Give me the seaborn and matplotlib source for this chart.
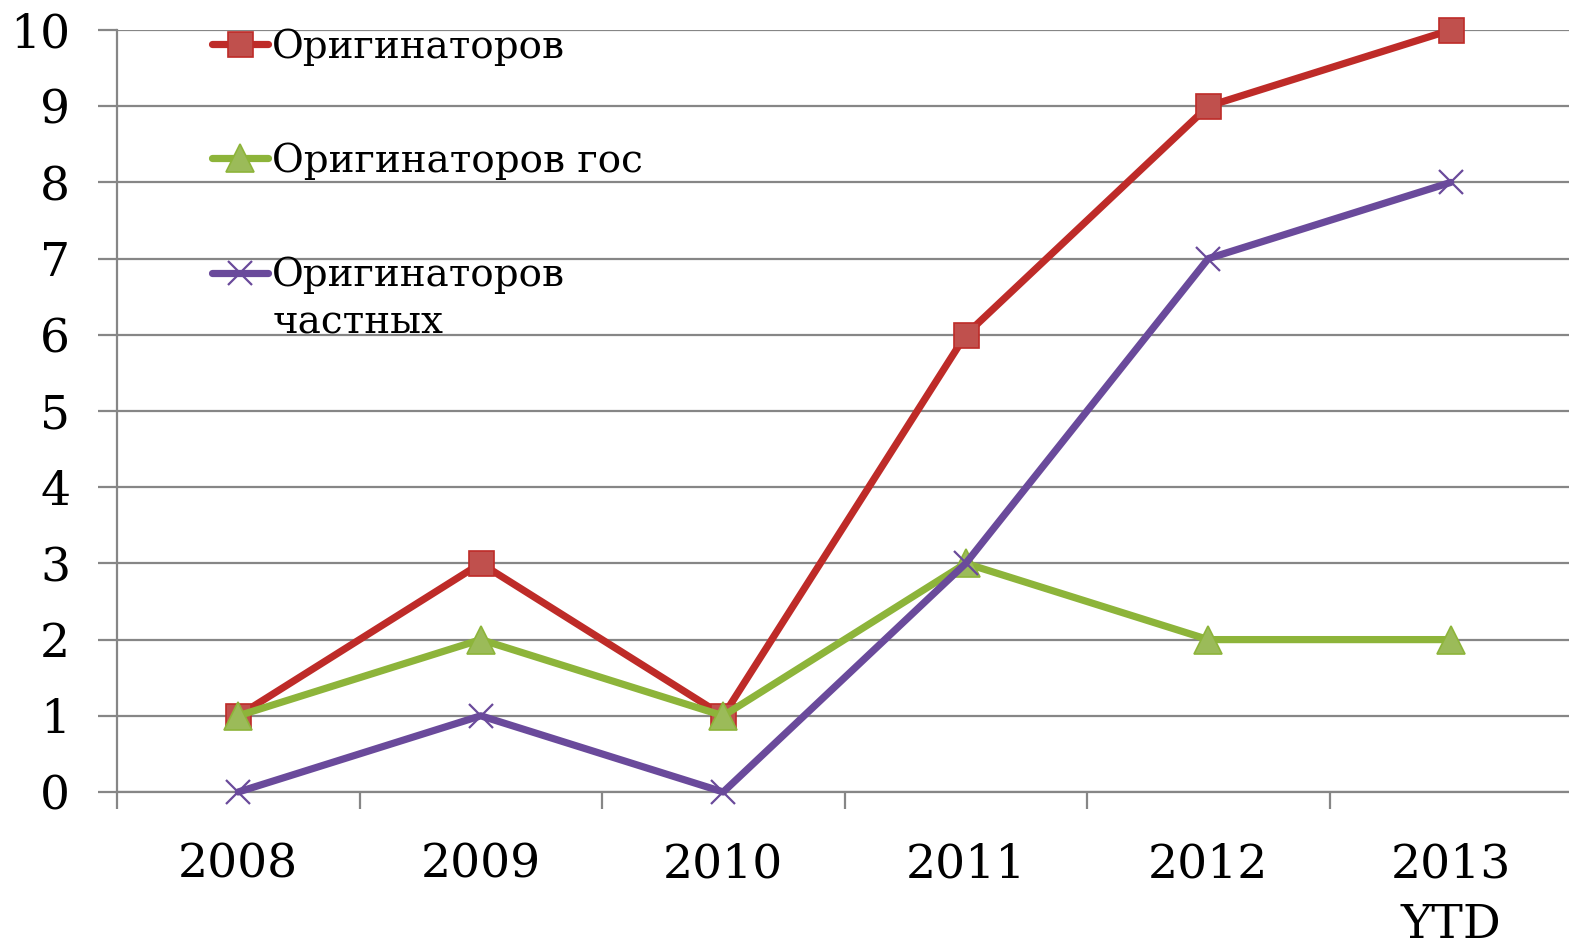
import pandas as pd
import matplotlib
matplotlib.use("Agg")
import matplotlib.pyplot as plt
from matplotlib.lines import Line2D
from matplotlib.ticker import FixedLocator
import seaborn as sns

# ── data ─────────────────────────────────────────────────────────────
years = ["2008", "2009", "2010", "2011", "2012", "2013\nYTD"]
orig_total = [1, 3, 1, 6, 9, 10]
orig_gov = [1, 2, 1, 3, 2, 2]
orig_private = [0, 1, 0, 3, 7, 8]

labels = ["Оригинаторов", "Оригинаторов гос", "Оригинаторов\nчастных"]

# ── style ────────────────────────────────────────────────────────────
GRID = "#868686"
RED_LINE, RED_FACE = "#BE2B28", "#C0504D"
GREEN_LINE, GREEN_FACE = "#8DB43A", "#9BBB59"
PURPLE = "#6A4A9B"
LW = 5.2

sns.set_style("white")
plt.rcParams["font.family"] = ["DejaVu Serif"]
plt.rcParams["text.color"] = "black"
plt.rcParams["xtick.labelcolor"] = "black"
plt.rcParams["ytick.labelcolor"] = "black"

fig = plt.figure(figsize=(15.69, 9.48), dpi=100)
ax = fig.add_axes([117 / 1569, 156 / 948, 1455 / 1569, 762 / 948])

pos = list(range(len(years)))
series = [
    (orig_total, dict(color=RED_LINE, marker="s", markersize=18,
                      markerfacecolor=RED_FACE, markeredgecolor=RED_LINE,
                      markeredgewidth=1.2)),
    (orig_gov, dict(color=GREEN_LINE, marker="^", markersize=20,
                    markerfacecolor=GREEN_FACE, markeredgecolor=GREEN_LINE,
                    markeredgewidth=1.2)),
    (orig_private, dict(color=PURPLE, marker="x", markersize=17,
                        markeredgecolor=PURPLE, markeredgewidth=1.6)),
]
for vals, kw in series:
    sns.lineplot(x=pos, y=vals, ax=ax, linewidth=LW, legend=False,
                 clip_on=False, zorder=3, **kw)

ax.set_xlim(-0.5, len(years) - 0.5)
ax.set_ylim(0, 10)
ax.set_yticks(range(0, 11))
ax.set_xticks(pos)
ax.set_xticklabels(years, fontsize=34, linespacing=1.45, va="top")
ax.set_yticklabels([str(v) for v in range(0, 11)], fontsize=34)
ax.xaxis.set_minor_locator(FixedLocator([p - 0.5 for p in range(len(years) + 1)]))

ax.grid(axis="y", color=GRID, linewidth=1.6)
ax.set_axisbelow(True)
ax.tick_params(axis="y", direction="out", length=13.7, width=1.6, color=GRID,
               pad=20, left=True)
ax.tick_params(axis="x", which="major", length=0, pad=36)
ax.tick_params(axis="x", which="minor", direction="out", length=12.5,
               width=1.6, color=GRID, bottom=True)
for side in ["top", "right"]:
    ax.spines[side].set_visible(False)
for side in ["left", "bottom"]:
    ax.spines[side].set_color(GRID)
    ax.spines[side].set_linewidth(1.6)
ax.set_xlabel("")
ax.set_ylabel("")

# ── legend ───────────────────────────────────────────────────────────
handles = []
for vals, kw in series:
    handles.append(Line2D([], [], linewidth=LW, **kw))
first_lines = [lab.split("\n")[0] for lab in labels]
leg = fig.legend(handles, first_lines, loc="upper left",
                 bbox_to_anchor=(212 / 1569, 1 - 28 / 948),
                 frameon=False, fontsize=28, handlelength=1.45,
                 handletextpad=0.1, labelspacing=1.98, borderpad=0,
                 borderaxespad=0)

fig.canvas.draw()
txt = leg.get_texts()[2]
bb = txt.get_window_extent()
x0, y0 = fig.transFigure.inverted().transform((bb.x0, bb.y0))
fig.text(x0, y0 - 10 / 948, labels[2].split("\n")[1], fontsize=28,
         va="top", ha="left")

fig.savefig("out.png", dpi=100)
